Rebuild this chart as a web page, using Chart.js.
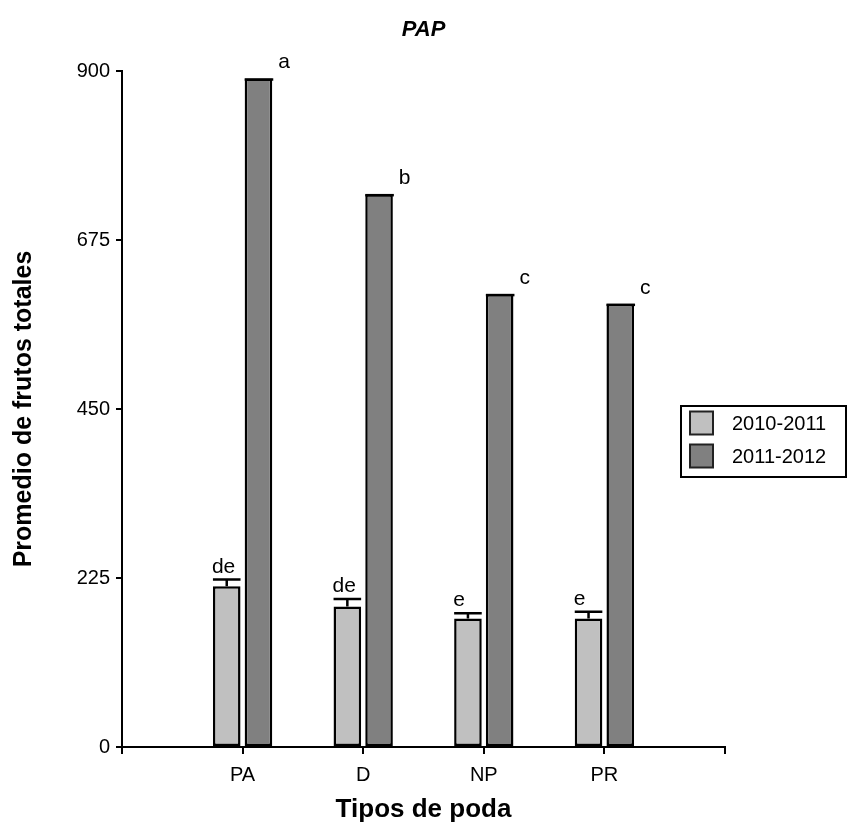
<!DOCTYPE html>
<html>
<head>
<meta charset="utf-8">
<script src="https://cdn.jsdelivr.net/npm/chart.js@4.4.1/dist/chart.umd.min.js"></script>
<style>
  html, body { margin: 0; padding: 0; background: #fff; }
</style>
</head>
<body>
<canvas id="barchart" width="847" height="826"></canvas>
<script>
const categories = ['PA', 'D', 'NP', 'PR'];
const seasons = ['2010-2011', '2011-2012'];
const frutos2010 = [214, 187, 171, 171];
const error2010 = [9, 10, 7, 9];
const frutos2011 = [890, 736, 603, 590];
const letras2010 = ['de', 'de', 'e', 'e'];
const letras2011 = ['a', 'b', 'c', 'c'];
const yTicks = [0, 225, 450, 675, 900];

const FONT = "'Liberation Sans', Arial, sans-serif";

// empty slot at each end so PA..PR sit on the inner ticks, like the original axis
const pad = arr => [null, ...arr, null];

// error bars, significance letters, title and the boxed legend
const extras = {
  id: 'extras',
  afterDatasetsDraw(chart) {
    const { ctx } = chart;
    const y = chart.scales.y;
    const light = chart.getDatasetMeta(0).data;
    const dark = chart.getDatasetMeta(1).data;
    ctx.save();
    ctx.strokeStyle = '#000';
    ctx.fillStyle = '#000';
    ctx.lineWidth = 2.5;
    ctx.font = '21px ' + FONT;
    categories.forEach((c, i) => {
      const bar = light[i + 1];
      const half = bar.width / 2;
      const top = y.getPixelForValue(frutos2010[i] + error2010[i]);
      ctx.beginPath();
      ctx.moveTo(bar.x, bar.y);
      ctx.lineTo(bar.x, top);
      ctx.moveTo(bar.x - half, top);
      ctx.lineTo(bar.x + half, top);
      ctx.stroke();
      ctx.textAlign = 'left';
      ctx.textBaseline = 'alphabetic';
      ctx.fillText(letras2010[i], bar.x - half - 1, top - 7);

      const d = dark[i + 1];
      ctx.beginPath();
      ctx.moveTo(d.x - d.width / 2, d.y + 1);
      ctx.lineTo(d.x + d.width / 2 + 1, d.y + 1);
      ctx.stroke();
      ctx.textBaseline = 'middle';
      ctx.fillText(letras2011[i], d.x + d.width / 2 + 6, d.y - 16);
    });
    ctx.restore();
  },
  afterDraw(chart) {
    const { ctx } = chart;
    ctx.save();
    ctx.fillStyle = '#000';
    ctx.textAlign = 'center';
    ctx.textBaseline = 'middle';
    ctx.font = 'italic bold 22px ' + FONT;
    ctx.fillText('PAP', (chart.chartArea.left + chart.chartArea.right) / 2, 30);

    // legend box
    ctx.strokeStyle = '#000';
    ctx.lineWidth = 2;
    ctx.strokeRect(681, 406, 165, 71);
    ctx.font = '20px ' + FONT;
    ctx.textAlign = 'left';
    chart.data.datasets.forEach((ds, k) => {
      const cy = 423 + k * 33;
      ctx.fillStyle = ds.backgroundColor;
      ctx.fillRect(690, cy - 11.5, 23, 23);
      ctx.lineWidth = 2;
      ctx.strokeStyle = '#222';
      ctx.strokeRect(690, cy - 11.5, 23, 23);
      ctx.fillStyle = '#000';
      ctx.fillText(ds.label, 732, cy + 1);
    });
    ctx.restore();
  }
};

const ctx = document.getElementById('barchart');

new Chart(ctx, {
  type: 'bar',
  data: {
    labels: pad(categories).map(v => v || ''),
    datasets: [{
      label: seasons[0],
      data: pad(frutos2010),
      backgroundColor: '#c0c0c0',
      borderColor: '#000',
      borderWidth: 2.5,
      borderSkipped: false
    }, {
      label: seasons[1],
      data: pad(frutos2011),
      backgroundColor: '#808080',
      borderColor: '#000',
      borderWidth: 2.5,
      borderSkipped: false
    }]
  },
  options: {
    responsive: false,
    animation: false,
    datasets: {
      bar: { categoryPercentage: 0.526, barPercentage: 0.87 }
    },
    layout: { padding: { top: 71, right: 122, left: 0, bottom: 0 } },
    plugins: {
      legend: { display: false },
      title: { display: false },
      tooltip: { enabled: false }
    },
    scales: {
      x: {
        offset: false,
        grid: { offset: false, drawOnChartArea: false, drawTicks: true, tickLength: 7, color: '#000', lineWidth: 2 },
        border: { display: true, color: '#000', width: 2 },
        ticks: { color: '#000', font: { family: FONT, size: 20 }, padding: 9, autoSkip: false, maxRotation: 0 },
        title: {
          display: true,
          text: 'Tipos de poda',
          color: '#000',
          font: { family: FONT, size: 26, weight: 'bold', lineHeight: 1.2 },
          padding: { top: 0, bottom: 1 }
        },
        afterFit: s => { s.height = 79; }
      },
      y: {
        min: yTicks[0],
        max: yTicks[yTicks.length - 1],
        afterBuildTicks: s => { s.ticks = yTicks.map(v => ({ value: v })); },
        grid: { drawOnChartArea: false, drawTicks: true, tickLength: 6, color: '#000', lineWidth: 2 },
        border: { display: true, color: '#000', width: 2 },
        ticks: { color: '#000', font: { family: FONT, size: 20 }, padding: 6 },
        title: {
          display: true,
          text: 'Promedio de frutos totales',
          color: '#000',
          font: { family: FONT, size: 25, weight: 'bold', lineHeight: 1.2 },
          padding: { top: 9, bottom: 0 }
        },
        afterFit: s => { s.width = 122; }
      }
    }
  },
  plugins: [extras]
});
</script>
</body>
</html>
